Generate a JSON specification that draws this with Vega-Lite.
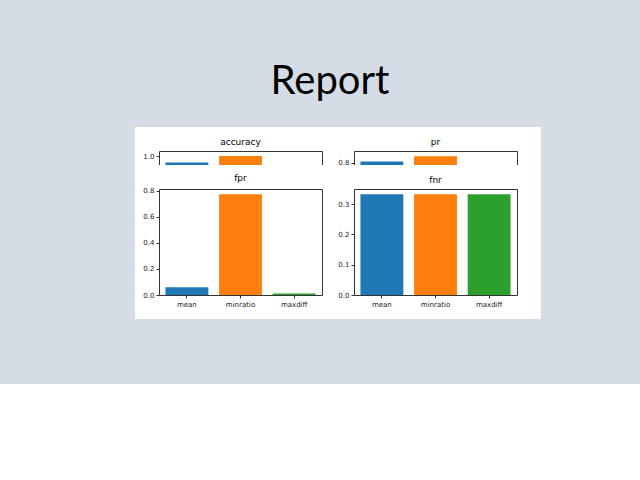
{
  "$schema": "https://vega.github.io/schema/vega-lite/v6.json",
  "background": "#d6dce5",
  "padding": {"left": 118, "top": 62, "right": 117, "bottom": 53},
  "title": {"text": "Report", "fontSize": 40, "font": "Lato", "fontWeight": "normal", "color": "#000000", "anchor": "middle", "offset": 12},
  "config": {
    "font": "DejaVu Sans",
    "axis": {"labelFontSize": 7, "labelColor": "#222222", "domainColor": "#333333", "tickColor": "#333333", "tickSize": 3, "labelPadding": 2, "grid": false, "title": null},
    "title": {"fontSize": 9, "fontWeight": "normal", "offset": 4},
    "view": {"fill": "white", "stroke": "white", "strokeWidth": 48}
  },
  "data": {
    "values": [
      {"metric": "accuracy", "method": "mean", "value": 0.935},
      {"metric": "accuracy", "method": "minratio", "value": 1.0},
      {"metric": "accuracy", "method": "maxdiff", "value": 0.0},
      {"metric": "pr", "method": "mean", "value": 0.81},
      {"metric": "pr", "method": "minratio", "value": 0.855},
      {"metric": "pr", "method": "maxdiff", "value": 0.12},
      {"metric": "fpr", "method": "mean", "value": 0.06},
      {"metric": "fpr", "method": "minratio", "value": 0.775},
      {"metric": "fpr", "method": "maxdiff", "value": 0.012},
      {"metric": "fnr", "method": "mean", "value": 0.333},
      {"metric": "fnr", "method": "minratio", "value": 0.333},
      {"metric": "fnr", "method": "maxdiff", "value": 0.333}
    ]
  },
  "bounds": "flush",
  "spacing": 38,
  "vconcat": [
    {
      "bounds": "flush",
      "spacing": 32,
      "hconcat": [
        {
          "title": "accuracy", "width": 163, "height": 106,
          "transform": [{"filter": "datum.metric == 'accuracy'"}],
          "encoding": {
            "x": {"field": "method", "type": "nominal", "sort": ["mean", "minratio", "maxdiff"], "scale": {"paddingInner": 0.2, "paddingOuter": 0.12}},
            "y": {"field": "value", "type": "quantitative", "scale": {"domain": [0, 1.05], "nice": false}},
            "color": {"field": "method", "type": "nominal", "scale": {"domain": ["mean", "minratio", "maxdiff"], "range": ["#1f77b4", "#ff7f0e", "#2ca02c"]}, "legend": null}
          },
          "layer": [
            {"mark": "bar", "encoding": {"x": {"field": "method", "type": "nominal", "sort": ["mean", "minratio", "maxdiff"], "axis": {"labelAngle": 0}}, "y": {"field": "value", "type": "quantitative", "axis": {"values": [0, 0.2, 0.4, 0.6, 0.8, 1.0], "format": ".1f"}}}},
            {"mark": {"type": "bar", "opacity": 0}, "encoding": {"x": {"field": "method", "type": "nominal", "sort": ["mean", "minratio", "maxdiff"], "axis": {"orient": "top", "labels": false, "ticks": false}}, "y": {"field": "value", "type": "quantitative", "axis": {"orient": "right", "labels": false, "ticks": false}}}}
          ],
          "resolve": {"axis": {"x": "independent", "y": "independent"}}
        },
        {
          "title": "pr", "width": 163, "height": 106,
          "transform": [{"filter": "datum.metric == 'pr'"}],
          "encoding": {
            "x": {"field": "method", "type": "nominal", "sort": ["mean", "minratio", "maxdiff"], "scale": {"paddingInner": 0.2, "paddingOuter": 0.12}},
            "y": {"field": "value", "type": "quantitative", "scale": {"domain": [0, 0.9], "nice": false}},
            "color": {"field": "method", "type": "nominal", "scale": {"domain": ["mean", "minratio", "maxdiff"], "range": ["#1f77b4", "#ff7f0e", "#2ca02c"]}, "legend": null}
          },
          "layer": [
            {"mark": "bar", "encoding": {"x": {"field": "method", "type": "nominal", "sort": ["mean", "minratio", "maxdiff"], "axis": {"labelAngle": 0}}, "y": {"field": "value", "type": "quantitative", "axis": {"values": [0, 0.2, 0.4, 0.6, 0.8], "format": ".1f"}}}},
            {"mark": {"type": "bar", "opacity": 0}, "encoding": {"x": {"field": "method", "type": "nominal", "sort": ["mean", "minratio", "maxdiff"], "axis": {"orient": "top", "labels": false, "ticks": false}}, "y": {"field": "value", "type": "quantitative", "axis": {"orient": "right", "labels": false, "ticks": false}}}}
          ],
          "resolve": {"axis": {"x": "independent", "y": "independent"}}
        }
      ]
    },
    {
      "bounds": "flush",
      "spacing": 32,
      "hconcat": [
        {
          "title": "fpr", "width": 163, "height": 106,
          "transform": [{"filter": "datum.metric == 'fpr'"}],
          "encoding": {
            "x": {"field": "method", "type": "nominal", "sort": ["mean", "minratio", "maxdiff"], "scale": {"paddingInner": 0.2, "paddingOuter": 0.12}},
            "y": {"field": "value", "type": "quantitative", "scale": {"domain": [0, 0.815], "nice": false}},
            "color": {"field": "method", "type": "nominal", "scale": {"domain": ["mean", "minratio", "maxdiff"], "range": ["#1f77b4", "#ff7f0e", "#2ca02c"]}, "legend": null}
          },
          "layer": [
            {"mark": "bar", "encoding": {"x": {"field": "method", "type": "nominal", "sort": ["mean", "minratio", "maxdiff"], "axis": {"labelAngle": 0}}, "y": {"field": "value", "type": "quantitative", "axis": {"values": [0, 0.2, 0.4, 0.6, 0.8], "format": ".1f"}}}},
            {"mark": {"type": "bar", "opacity": 0}, "encoding": {"x": {"field": "method", "type": "nominal", "sort": ["mean", "minratio", "maxdiff"], "axis": {"orient": "top", "labels": false, "ticks": false}}, "y": {"field": "value", "type": "quantitative", "axis": {"orient": "right", "labels": false, "ticks": false}}}}
          ],
          "resolve": {"axis": {"x": "independent", "y": "independent"}}
        },
        {
          "title": "fnr", "width": 163, "height": 106,
          "transform": [{"filter": "datum.metric == 'fnr'"}],
          "encoding": {
            "x": {"field": "method", "type": "nominal", "sort": ["mean", "minratio", "maxdiff"], "scale": {"paddingInner": 0.2, "paddingOuter": 0.12}},
            "y": {"field": "value", "type": "quantitative", "scale": {"domain": [0, 0.35], "nice": false}},
            "color": {"field": "method", "type": "nominal", "scale": {"domain": ["mean", "minratio", "maxdiff"], "range": ["#1f77b4", "#ff7f0e", "#2ca02c"]}, "legend": null}
          },
          "layer": [
            {"mark": "bar", "encoding": {"x": {"field": "method", "type": "nominal", "sort": ["mean", "minratio", "maxdiff"], "axis": {"labelAngle": 0}}, "y": {"field": "value", "type": "quantitative", "axis": {"values": [0, 0.1, 0.2, 0.3], "format": ".1f"}}}},
            {"mark": {"type": "bar", "opacity": 0}, "encoding": {"x": {"field": "method", "type": "nominal", "sort": ["mean", "minratio", "maxdiff"], "axis": {"orient": "top", "labels": false, "ticks": false}}, "y": {"field": "value", "type": "quantitative", "axis": {"orient": "right", "labels": false, "ticks": false}}}}
          ],
          "resolve": {"axis": {"x": "independent", "y": "independent"}}
        }
      ]
    }
  ]
}
